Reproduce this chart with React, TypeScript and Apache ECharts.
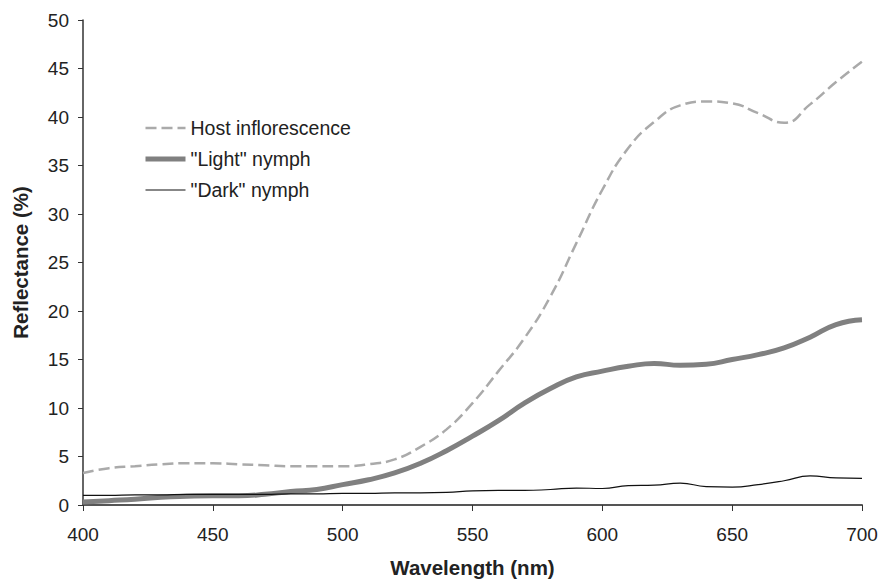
import React, { useEffect, useRef } from "react";
import * as echarts from "echarts";

const wavelengths = [400,410,420,430,440,450,460,470,480,490,500,510,520,530,540,550,560,570,580,590,600,610,620,630,640,650,660,670,680,690,700];
const hostValues = [3.3,3.8,4.0,4.2,4.3,4.3,4.2,4.1,4.0,4.0,4.0,4.2,4.7,6.0,7.8,10.5,13.8,17.2,21.5,27.0,32.5,36.8,39.5,41.2,41.6,41.4,40.4,39.4,41.3,43.6,45.7];
const lightValues = [0.3,0.45,0.6,0.8,0.9,0.95,0.95,1.1,1.4,1.6,2.1,2.6,3.3,4.3,5.6,7.1,8.7,10.5,12.0,13.2,13.8,14.3,14.6,14.4,14.5,15.0,15.5,16.2,17.3,18.6,19.1];
const darkValues = [1.0,1.0,1.05,1.05,1.1,1.1,1.1,1.1,1.15,1.15,1.2,1.2,1.25,1.25,1.3,1.45,1.5,1.5,1.6,1.75,1.7,2.0,2.05,2.25,1.9,1.85,2.1,2.5,3.0,2.8,2.75];
const seriesNames = ["Host inflorescence", "\"Light\" nymph", "\"Dark\" nymph"];

const pairs = (vals: number[]) => wavelengths.map((w, i) => [w, vals[i]]);

export default function App() {
  const ref = useRef<HTMLDivElement>(null);
  useEffect(() => {
    if (!ref.current) return;
    const chart = echarts.init(ref.current, null, { renderer: "svg" });
    const font = "'Liberation Sans', Arial, sans-serif";
    chart.setOption({
      animation: false,
      backgroundColor: "#ffffff",
      grid: { left: 83, right: 19, top: 20, bottom: 77 },
      legend: {
        orient: "vertical",
        left: 138,
        top: 113,
        itemWidth: 40,
        itemHeight: 14,
        itemGap: 11,
        itemStyle: { opacity: 0 },
        textStyle: { fontFamily: font, fontSize: 19.5, color: "#222" },
        data: [
          { name: seriesNames[0], lineStyle: { width: 2.5, color: "#aaaaaa", type: [11, 5] } },
          { name: seriesNames[1], lineStyle: { width: 5, color: "#808080" } },
          { name: seriesNames[2], lineStyle: { width: 1.2, color: "#111" } },
        ],
      },
      xAxis: {
        type: "value",
        min: 400,
        max: 700,
        interval: 50,
        name: "Wavelength (nm)",
        nameLocation: "middle",
        nameGap: 52,
        nameTextStyle: { fontFamily: font, fontSize: 20.5, fontWeight: "bold", color: "#222" },
        axisLine: { show: true, lineStyle: { color: "#555", width: 2 } },
        axisTick: { show: true, length: 6, lineStyle: { color: "#333", width: 1 } },
        axisLabel: { fontFamily: font, fontSize: 19, color: "#222", margin: 20 },
        splitLine: { show: false },
      },
      yAxis: {
        type: "value",
        min: 0,
        max: 50,
        interval: 5,
        name: "Reflectance (%)",
        nameLocation: "middle",
        nameGap: 52,
        nameTextStyle: { fontFamily: font, fontSize: 20.5, fontWeight: "bold", color: "#222" },
        axisLine: { show: true, lineStyle: { color: "#333", width: 1.5 } },
        axisTick: { show: true, length: 5, lineStyle: { color: "#333", width: 1 } },
        axisLabel: { fontFamily: font, fontSize: 19, color: "#222", margin: 14 },
        splitLine: { show: false },
      },
      series: [
        {
          name: seriesNames[0],
          type: "line",
          data: pairs(hostValues),
          smooth: true,
          symbol: "none",
          lineStyle: { color: "#aaaaaa", width: 2.5, type: [11, 5] },
          itemStyle: { color: "#aaaaaa" },
        },
        {
          name: seriesNames[1],
          type: "line",
          data: pairs(lightValues),
          smooth: true,
          symbol: "none",
          lineStyle: { color: "#808080", width: 5 },
          itemStyle: { color: "#808080" },
        },
        {
          name: seriesNames[2],
          type: "line",
          data: pairs(darkValues),
          smooth: true,
          symbol: "none",
          lineStyle: { color: "#111", width: 1.2 },
          itemStyle: { color: "#111" },
        },
      ],
    });
    return () => chart.dispose();
  }, []);
  return (
    <div
      ref={ref}
      style={{ position: "absolute", left: 0, top: 0, width: 881, height: 583 }}
    />
  );
}
